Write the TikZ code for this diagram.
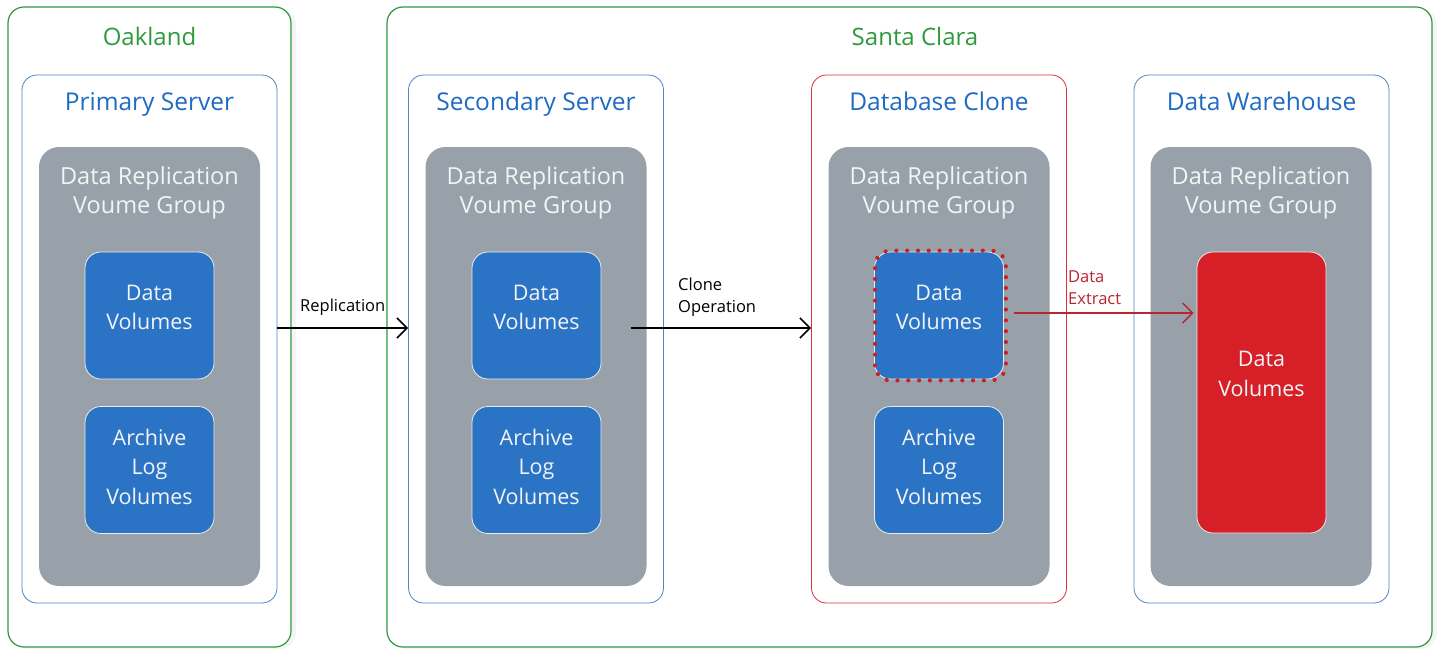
\documentclass[tikz,border=0pt]{standalone}
\usepackage{fontspec}
\setmainfont{Open Sans}
\usetikzlibrary{arrows.meta,shadows}
\definecolor{zonegreen}{HTML}{2E9A3E}
\definecolor{srvblue}{HTML}{4A86C8}
\definecolor{titleblue}{HTML}{1F6BC3}
\definecolor{grpgray}{HTML}{98A1A9}
\definecolor{volblue}{HTML}{2B73C4}
\definecolor{volred}{HTML}{D61F27}
\definecolor{clonered}{HTML}{D9323C}
\definecolor{dotred}{HTML}{C8202A}
\definecolor{extractred}{HTML}{B8262E}
\definecolor{lighttext}{HTML}{F2F4F6}
\tikzset{
  zone/.style={draw=zonegreen, line width=1.2pt, fill=white, rounded corners=16pt,
    drop shadow={opacity=0.08, shadow xshift=5pt, shadow yshift=-2pt}},
  zonetitle/.style={text=zonegreen, font=\fontsize{24}{28}\selectfont},
  server/.style={draw=srvblue, line width=0.8pt, fill=white, rounded corners=15pt},
  srvtitle/.style={text=titleblue, font=\fontsize{24.5}{28}\selectfont},
  group/.style={fill=grpgray, rounded corners=20pt},
  grptitle/.style={text=lighttext, align=center, font=\fontsize{23.5}{29}\selectfont},
  vol/.style={fill=volblue, draw=white!80!grpgray, line width=0.8pt, rounded corners=16pt},
  voltext/.style={text=lighttext, align=center, font=\fontsize{21.5}{29.5}\selectfont},
  barb/.style={-{Straight Barb[length=10pt,width=20pt,line width=#1]}},
  flow/.style={line width=1.6pt, barb=1.6pt},
  flowlabel/.style={font=\fontsize{16.5}{22}\selectfont, align=left, inner sep=0pt}
}
\begin{document}
\begin{tikzpicture}[x=1pt,y=-1pt]
\useasboundingbox (0,0) rectangle (1437,648);

% sites
\node[zone, minimum width=283pt, minimum height=640pt] (oak) at (149.5,327) {};
\node[zone, minimum width=1045pt, minimum height=640pt] (sc) at (909.5,327) {};
\node[zonetitle, anchor=base] (oakt) at (149.5,45) {Oakland};
\node[zonetitle, anchor=base] (sct) at (915,45) {Santa Clara};

% servers
\node[server, minimum width=255pt, minimum height=528pt] (ps) at (149.5,339) {};
\node[server, minimum width=255pt, minimum height=528pt] (ss) at (536,339) {};
\node[server, draw=clonered, minimum width=255pt, minimum height=528pt] (dc) at (939,339) {};
\node[server, minimum width=255pt, minimum height=528pt] (dw) at (1261.5,339) {};
\node[srvtitle, anchor=base] (pst) at (149.5,110) {Primary Server};
\node[srvtitle, anchor=base] (sst) at (536,110) {Secondary Server};
\node[srvtitle, anchor=base] (dct) at (939,110) {Database Clone};
\node[srvtitle, anchor=base] (dwt) at (1261.5,110) {Data Warehouse};

% volume groups
\foreach \n/\x in {pg/149.5, sg/536, dg/939, wg/1261}{
  \node[group, minimum width=221pt, minimum height=439pt] (\n) at (\x,366.5) {};
  \node[grptitle] (\n t) at (\x,193) {Data Replication\\Voume Group};
}

% volumes
\foreach \n/\x in {p/149.5, s/536.5, d/939}{
  \node[vol, minimum width=129pt, minimum height=127pt] (\n dv) at (\x,315.5) {};
  \node[vol, minimum width=129pt, minimum height=127pt] (\n av) at (\x,470) {};
  \node[voltext] (\n dvt) at (\x,307.5) {Data\\Volumes};
  \node[voltext] (\n avt) at (\x,466.5) {Archive\\Log\\Volumes};
}
\node[vol, fill=volred, minimum width=129pt, minimum height=281pt] (wdv) at (1261.5,392.5) {};
\node[voltext] (wdvt) at (1261.5,374) {Data\\Volumes};

% cloned volume outline
\draw[dotred, line width=4.2pt, line cap=round, dash pattern=on 0pt off 10.8pt, rounded corners=15pt]
  ([xshift=1pt,yshift=-1pt]ddv.south west) rectangle ([xshift=2pt,yshift=1pt]ddv.north east);

% flows
\draw[flow] ([yshift=11pt]ps.east) -- ([yshift=11pt]ss.west)
  node[midway, above=12pt, flowlabel] (repl) {Replication};
\draw[flow] ([xshift=-16pt,yshift=38.5pt]sg.east) -- ([yshift=11pt]dc.west);
\node[flowlabel, anchor=west] (clop) at (678,297) {Clone\\Operation};
\draw[extractred, line width=1.4pt, barb=1.4pt]
  ([xshift=10pt,yshift=2.5pt]ddv.east) -- ([xshift=-3pt,yshift=79.5pt]wdv.west);
\node[flowlabel, text=extractred, anchor=west] (dext) at (1068,288) {Data\\Extract};
\end{tikzpicture}
\end{document}
